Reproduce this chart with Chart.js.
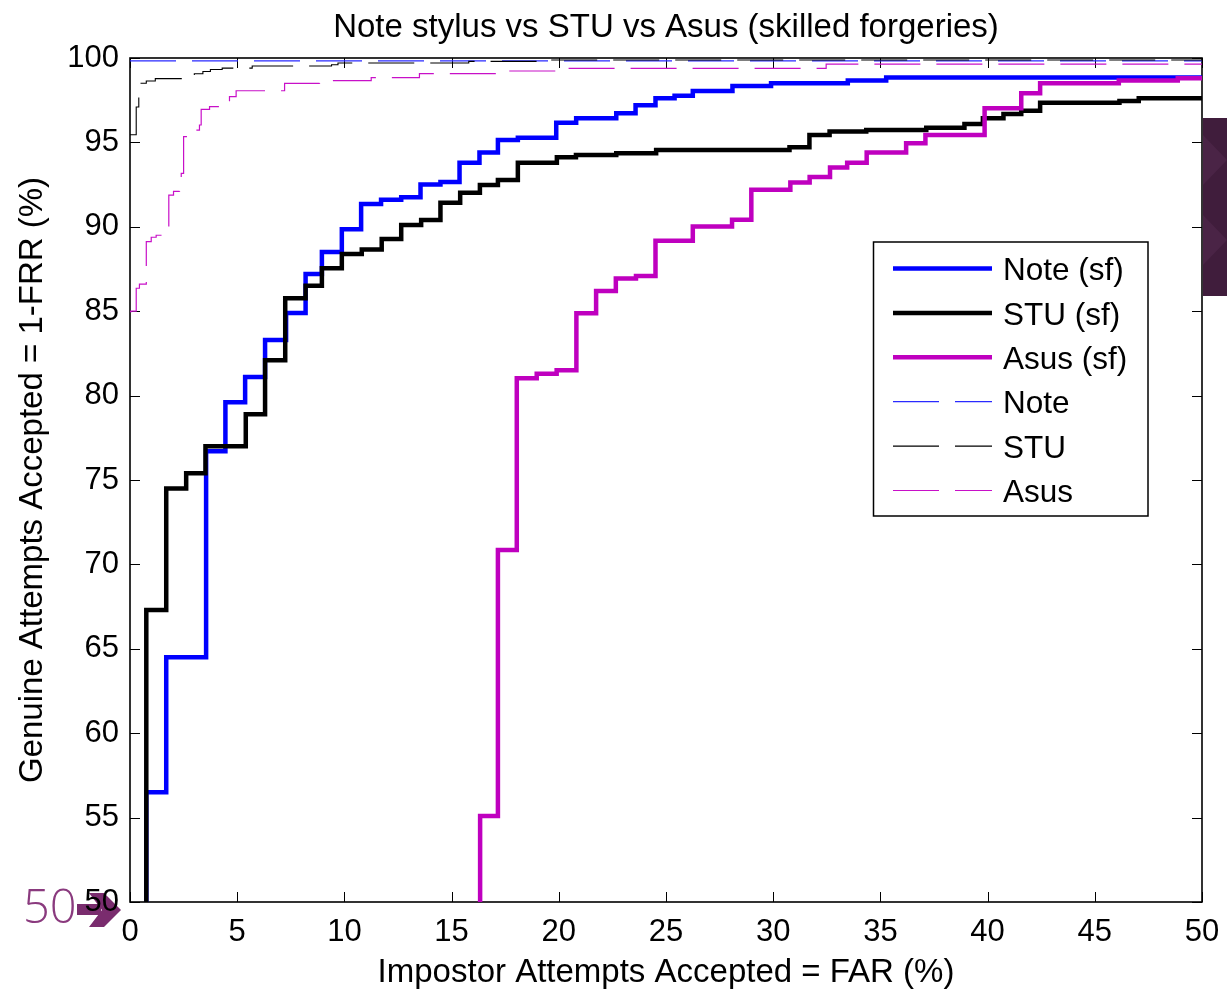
<!DOCTYPE html>
<html>
<head>
<meta charset="utf-8">
<title>Note stylus vs STU vs Asus</title>
<script src="https://cdn.jsdelivr.net/npm/chart.js@4.4.1/dist/chart.umd.min.js"></script>
<style>
    html, body { margin: 0; padding: 0; background: #fff; }
    #wrap { width: 1227px; height: 989px; }
</style>
</head>
<body>
<div id="wrap"><canvas id="roc" width="1227" height="989"></canvas></div>
<script>
/**
 * DET-style curves: genuine acceptance vs impostor acceptance.
 * Step curves.
 */

const TITLE = 'Note stylus vs STU vs Asus (skilled forgeries)';
const X_LABEL = 'Impostor Attempts Accepted = FAR (%)';
const Y_LABEL = 'Genuine Attempts Accepted = 1-FRR (%)';

const X_TICKS = [0, 5, 10, 15, 20, 25, 30, 35, 40, 45, 50];
const Y_TICKS = [50, 55, 60, 65, 70, 75, 80, 85, 90, 95, 100];

// ---- Skilled forgeries (thick) ------------------------------------------

const noteSfX = [0.76, 0.76, 1.69, 3.55, 4.45, 5.37, 6.30, 7.28, 8.19, 8.95, 9.88, 10.78, 11.71, 12.65, 13.55, 14.48, 15.37, 16.30, 17.16, 18.09, 19.88, 20.81, 22.68, 23.58, 24.51, 25.40, 26.25, 28.10, 29.90, 33.48, 35.27, 50];
const noteSfY = [40, 56.5, 64.5, 76.7, 79.6, 81.1, 83.3, 84.9, 87.2, 88.5, 89.85, 91.35, 91.6, 91.75, 92.5, 92.65, 93.8, 94.4, 95.14, 95.28, 96.17, 96.43, 96.72, 97.2, 97.61, 97.77, 98.04, 98.34, 98.5, 98.66, 98.84, 98.84];

const stuSfX = [0.76, 0.76, 1.69, 2.62, 3.52, 5.40, 6.30, 7.24, 8.19, 8.95, 9.88, 10.81, 11.74, 12.65, 13.58, 14.48, 15.40, 16.32, 17.16, 18.09, 19.91, 20.80, 22.68, 24.54, 30.76, 31.69, 32.63, 34.34, 37.14, 38.92, 39.78, 40.74, 41.57, 42.45, 46.15, 47.05, 50];
const stuSfY = [40, 67.3, 74.5, 75.4, 77.0, 78.9, 82.1, 85.76, 86.51, 87.54, 88.39, 88.66, 89.28, 90.1, 90.4, 91.43, 92.02, 92.48, 92.77, 93.8, 94.12, 94.25, 94.35, 94.55, 94.71, 95.44, 95.64, 95.73, 95.87, 96.09, 96.43, 96.68, 96.88, 97.35, 97.45, 97.61, 97.61];

const asusSfX = [16.33, 16.33, 17.16, 18.04, 18.97, 19.90, 20.82, 21.74, 22.66, 23.60, 24.51, 26.25, 28.08, 28.98, 30.80, 31.70, 32.65, 33.45, 34.36, 36.20, 37.10, 39.86, 41.57, 42.45, 46.12, 48.87, 50];
const asusSfY = [40, 55.1, 70.85, 81.03, 81.3, 81.5, 84.88, 86.2, 86.93, 87.08, 89.18, 90.02, 90.42, 92.2, 92.62, 92.95, 93.52, 93.8, 94.4, 94.95, 95.44, 97.02, 97.91, 98.5, 98.66, 98.8, 98.8];

// ---- Random forgeries (thin dashed) -------------------------------------

const noteX = [0, 50];
const noteY = [99.83, 99.83];

const stuX = [0, 0.29, 0.29, 0.41, 0.76, 1.18, 2.74, 3.0, 3.4, 3.75, 4.3, 5.7, 9.4, 9.7, 15.8, 19.0, 50];
const stuY = [95.45, 95.93, 97.1, 98.5, 98.64, 98.78, 98.95, 99.07, 99.2, 99.32, 99.4, 99.53, 99.6, 99.7, 99.8, 99.88, 99.9];

const asusX = [0, 0.05, 0.29, 0.44, 0.76, 0.76, 0.99, 1.22, 1.53, 1.81, 2.03, 2.31, 2.39, 2.5, 2.78, 2.93, 3.24, 3.32, 3.71, 4.17, 4.64, 4.95, 7.21, 8.84, 11.25, 13.5, 17.2, 19.88, 32.47, 50];
const asusY = [84.97, 85.0, 86.36, 86.6, 87.24, 89.12, 89.38, 89.5, 89.91, 91.88, 92.1, 92.48, 93.17, 95.34, 95.44, 95.73, 96.03, 96.96, 97.12, 97.32, 97.71, 98.06, 98.5, 98.66, 98.84, 99.08, 99.23, 99.39, 99.64, 99.64];

const FONT = '"Liberation Sans", Arial, Helvetica, sans-serif';
const TICK_LEN = 10;

function curve(label, xs, ys, color, width, dash, order) {
    return {
        label,
        data: xs.map((x, i) => ({ x, y: ys[i] })),
        borderColor: color,
        backgroundColor: color,
        borderWidth: width,
        borderDash: dash,
        borderJoinStyle: 'miter',
        borderCapStyle: 'butt',
        stepped: true,
        pointRadius: 0,
        fill: false,
        clip: 0,
        order,
    };
}

// ---- Plugins ------------------------------------------------------------

// MATLAB style box with inward ticks on all four sides.
const axesBox = {
    id: 'axesBox',
    beforeDatasetsDraw(chart) {
        const { ctx, chartArea: a, scales: { x, y } } = chart;
        ctx.save();
        ctx.strokeStyle = '#000';
        ctx.lineWidth = 1;
        ctx.beginPath();
        for (const v of X_TICKS) {
            const p = Math.round(x.getPixelForValue(v)) + 0.5;
            ctx.moveTo(p, a.bottom); ctx.lineTo(p, a.bottom - TICK_LEN);
            ctx.moveTo(p, a.top); ctx.lineTo(p, a.top + TICK_LEN);
        }
        for (const v of Y_TICKS) {
            const p = Math.round(y.getPixelForValue(v)) + 0.5;
            ctx.moveTo(a.left, p); ctx.lineTo(a.left + TICK_LEN, p);
            ctx.moveTo(a.right, p); ctx.lineTo(a.right - TICK_LEN, p);
        }
        ctx.stroke();
        ctx.lineWidth = 1.6;
        ctx.strokeRect(a.left, a.top, a.right - a.left, a.bottom - a.top);
        ctx.restore();
    },
};

const legendBox = {
    id: 'legendBox',
    afterDraw(chart) {
        const { ctx } = chart;
        const box = { x: 873.5, y: 242, w: 274.5, h: 274 };
        ctx.save();
        ctx.fillStyle = '#fff';
        ctx.fillRect(box.x, box.y, box.w, box.h);
        ctx.strokeStyle = '#000';
        ctx.lineWidth = 1.5;
        ctx.strokeRect(box.x, box.y, box.w, box.h);
        ctx.font = `31.5px ${FONT}`;
        ctx.textBaseline = 'middle';
        chart.data.datasets.forEach((ds, i) => {
            const yy = box.y + 26.5 + i * 44.4;
            ctx.beginPath();
            ctx.setLineDash(ds.borderDash || []);
            ctx.strokeStyle = ds.borderColor;
            ctx.lineWidth = ds.borderWidth;
            ctx.moveTo(893, yy);
            ctx.lineTo(992, yy);
            ctx.stroke();
            ctx.setLineDash([]);
            ctx.fillStyle = '#000';
            ctx.fillText(ds.label, 1003, yy + 3);
        });
        ctx.restore();
    },
};

// Bits of the slide the figure was pasted on.
const slideBits = {
    id: 'slideBits',
    beforeDraw(chart) {
        const { ctx } = chart;
        ctx.save();
        ctx.textBaseline = 'middle';
        ctx.fillStyle = '#8a3a7e';
        ctx.font = '300 47px "Open Sans", Lato, sans-serif';
        ctx.fillText('50', 23, 910);
        // arrow: bar + notched head
        ctx.fillStyle = '#7a2c6e';
        ctx.fillRect(77, 904, 24, 11);
        ctx.beginPath();
        ctx.moveTo(89, 893);
        ctx.lineTo(104, 893);
        ctx.lineTo(121, 910);
        ctx.lineTo(104, 927);
        ctx.lineTo(89, 927);
        ctx.lineTo(102, 910);
        ctx.closePath();
        ctx.fill();
        ctx.restore();
    },
    afterDraw(chart) {
        const { ctx } = chart;
        ctx.save();
        ctx.fillStyle = '#401d3c';
        ctx.fillRect(1203, 118, 24, 178);
        ctx.fillStyle = '#4a2446';
        ctx.beginPath();
        ctx.moveTo(1203, 135); ctx.lineTo(1227, 160); ctx.lineTo(1203, 185); ctx.closePath();
        ctx.moveTo(1203, 215); ctx.lineTo(1227, 240); ctx.lineTo(1203, 265); ctx.closePath();
        ctx.fill();
        ctx.restore();
    },
};

// ---- Chart --------------------------------------------------------------

const tickFont = { family: FONT, size: 31 };
const labelFont = { family: FONT, size: 33 };

new Chart(document.getElementById('roc'), {
    type: 'line',
    data: {
        datasets: [
            curve('Note (sf)', noteSfX, noteSfY, '#0000ff', 4.5, [], 6),
            curve('STU (sf)', stuSfX, stuSfY, '#000000', 4.5, [], 5),
            curve('Asus (sf)', asusSfX, asusSfY, '#bf00bf', 4.5, [], 4),
            curve('Note', noteX, noteY, '#2a2aff', 1.2, [46, 16], 3),
            curve('STU', stuX, stuY, '#000000', 1.1, [46, 16], 2),
            curve('Asus', asusX, asusY, '#c810c8', 1.2, [46, 16], 1),
        ],
    },
    options: {
        responsive: false,
        animation: false,
        devicePixelRatio: 1,
        layout: { padding: { left: 0, right: 25, top: 0, bottom: 0 } },
        plugins: {
            legend: { display: false },
            tooltip: { enabled: false },
            title: {
                display: true,
                text: TITLE,
                fullSize: false,
                color: '#000',
                font: { family: FONT, size: 33, weight: 'normal' },
                padding: { top: 8, bottom: 10.4 },
            },
        },
        scales: {
            x: {
                type: 'linear',
                min: 0,
                max: 50,
                afterBuildTicks: (s) => { s.ticks = X_TICKS.map(v => ({ value: v })); },
                afterFit: (s) => { s.height = 87; s.paddingLeft = 0; s.paddingRight = 0; },
                ticks: { color: '#000', font: tickFont, padding: 12, maxRotation: 0, autoSkip: false },
                grid: { display: false, drawTicks: false },
                border: { display: false },
                title: { display: true, text: X_LABEL, color: '#000', font: labelFont, padding: { top: 0, bottom: -4 } },
            },
            y: {
                type: 'linear',
                min: 50,
                max: 100,
                afterBuildTicks: (s) => { s.ticks = Y_TICKS.map(v => ({ value: v })); },
                afterFit: (s) => { s.width = 130; },
                ticks: { color: '#000', font: tickFont, padding: 11, autoSkip: false },
                grid: { display: false, drawTicks: false },
                border: { display: false },
                title: { display: true, text: Y_LABEL, color: '#000', font: labelFont, padding: { top: 13, bottom: 0 } },
            },
        },
    },
    plugins: [axesBox, legendBox, slideBits],
});
</script>
</body>
</html>
